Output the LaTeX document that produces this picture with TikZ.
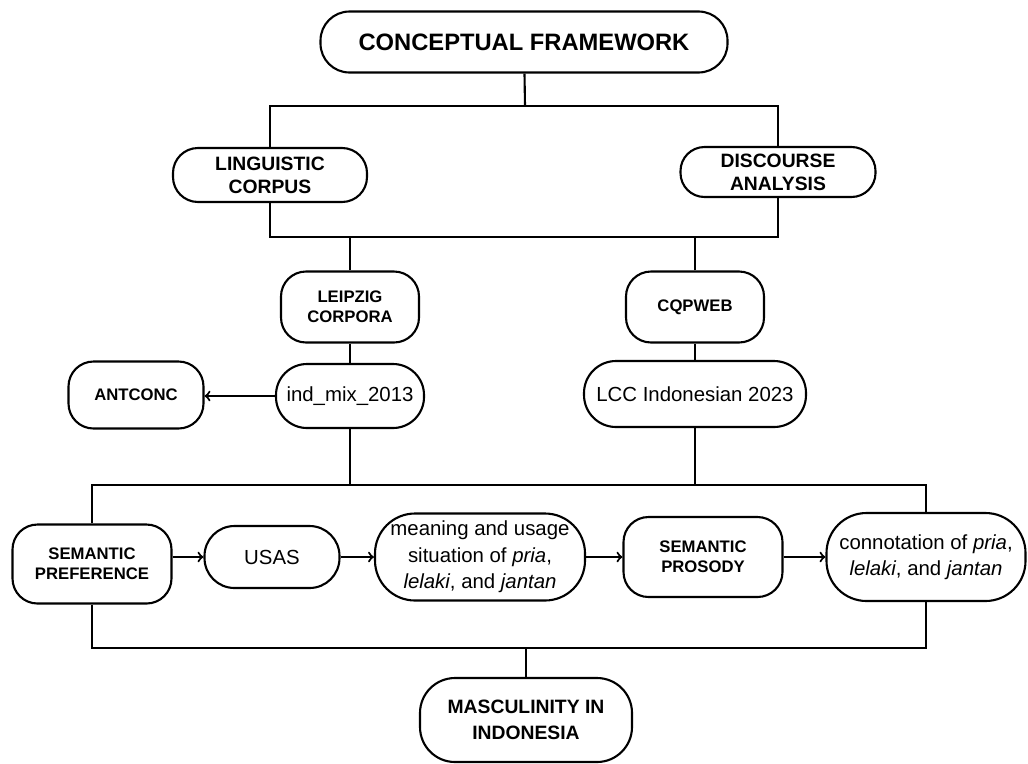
\documentclass[tikz,border=0pt]{standalone}
\usepackage{fontspec}
\setmainfont{Liberation Sans}

\tikzset{
	box/.style={draw, line width=1.2pt, rounded corners=0.5cm, align=center, inner sep=2pt},
	head/.style={box, font=\bfseries\fontsize{11}{13}\selectfont},
	tool/.style={box, font=\bfseries\fontsize{9.5}{11.3}\selectfont},
	plain/.style={box, font=\fontsize{11.6}{15}\selectfont},
	link/.style={line width=1.2pt}
}

\begin{document}
\begin{tikzpicture}[link]
	\useasboundingbox (0,0) rectangle (20.56,-15.26);

	\node[head, font=\bfseries\fontsize{13.5}{15}\selectfont, minimum width=8.14cm, minimum height=1.22cm, rounded corners=0.58cm] (cf) at (10.48,-0.84) {CONCEPTUAL FRAMEWORK};

	\node[head, minimum width=3.88cm, minimum height=1.08cm] (lc) at (5.4,-3.5) {LINGUISTIC\\CORPUS};
	\node[head, minimum width=3.9cm, minimum height=1.0cm, rounded corners=0.48cm] (da) at (15.56,-3.44) {DISCOURSE\\ANALYSIS};

	\node[tool, minimum width=2.76cm, minimum height=1.42cm] (lp) at (7.0,-6.14) {LEIPZIG\\CORPORA};
	\node[tool, minimum width=2.76cm, minimum height=1.42cm] (cq) at (13.9,-6.14) {CQPWEB};

	\node[tool, minimum width=2.7cm, minimum height=1.34cm] (ant) at (2.72,-7.9) {ANTCONC};
	\node[plain, minimum width=2.96cm, minimum height=1.28cm, rounded corners=0.62cm] (ind) at (7.0,-7.92) {ind\_mix\_2013};
	\node[plain, minimum width=4.44cm, minimum height=1.32cm, rounded corners=0.64cm] (lcc) at (13.9,-7.88) {LCC Indonesian 2023};

	% bottom row
	\node[tool, minimum width=3.18cm, minimum height=1.58cm] (sp) at (1.84,-11.28) {SEMANTIC\\PREFERENCE};
	\node[plain, minimum width=2.7cm, minimum height=1.24cm, rounded corners=0.6cm] (usas) at (5.44,-11.14) {USAS};
	\node[plain, minimum width=4.2cm, minimum height=1.74cm, rounded corners=0.8cm] (mean) at (9.6,-11.14) {meaning and usage\\situation of \textit{pria},\\\textit{lelaki}, and \textit{jantan}};
	\node[tool, minimum width=3.18cm, minimum height=1.6cm] (spro) at (14.06,-11.14) {SEMANTIC\\PROSODY};
	\node[plain, minimum width=3.98cm, minimum height=1.76cm, rounded corners=0.8cm] (conn) at (18.52,-11.14) {connotation of \textit{pria},\\\textit{lelaki}, and \textit{jantan}};

	\node[head, minimum width=4.24cm, minimum height=1.68cm, rounded corners=0.7cm, font=\bfseries\fontsize{11}{14.7}\selectfont] (mas) at (10.52,-14.4) {MASCULINITY IN\\INDONESIA};

	\coordinate (bar1) at (10.5,-2.12);
	\coordinate (bar2) at (10.5,-4.74);
	\coordinate (bar3) at (10.5,-9.7);
	\coordinate (bar4) at (10.52,-12.96);

	\draw (cf) -- (bar1);
	\draw (lc) |- (bar1) -| (da);
	\draw (lc) |- (bar2) -| (da);
	\draw (lp) -- (lp |- bar2);
	\draw (cq) -- (cq |- bar2);
	\draw (lp) -- (ind);
	\draw (cq) -- (lcc);
	\draw[->] (ind) -- (ant.east |- ind);

	\draw (ind) -- (ind |- bar3);
	\draw (lcc) -- (lcc |- bar3);
	\draw (sp) |- (bar3) -| (conn);

	\draw[->] (sp.east |- usas) -- (usas);
	\draw[->] (usas) -- (mean);
	\draw[->] (mean) -- (spro);
	\draw[->] (spro) -- (conn);

	\draw (sp) |- (bar4) -| (conn);
	\draw (mas) -- (bar4);

\end{tikzpicture}
\end{document}
